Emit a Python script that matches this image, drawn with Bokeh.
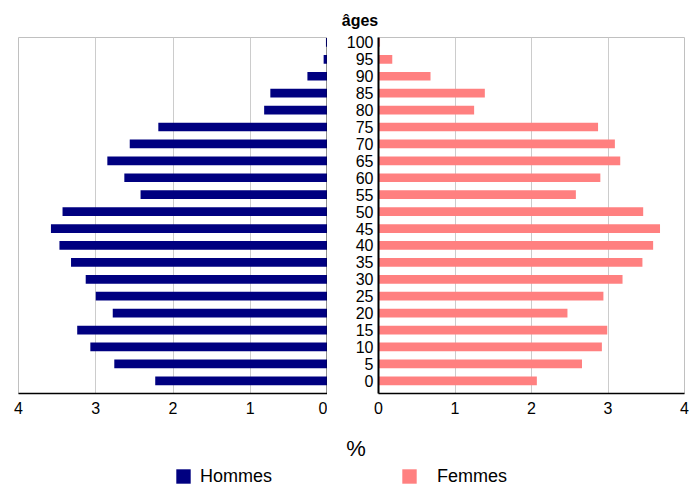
from bokeh.plotting import figure
from bokeh.layouts import row, column
from bokeh.models import Range1d, FixedTicker, Span, Label, Legend, LegendItem, ColumnDataSource
from bokeh.embed import file_html
from bokeh.resources import INLINE

ages = [0, 5, 10, 15, 20, 25, 30, 35, 40, 45, 50, 55, 60, 65, 70, 75, 80, 85, 90, 95, 100]
hommes = [2.23, 2.76, 3.07, 3.24, 2.78, 3.00, 3.13, 3.32, 3.47, 3.58, 3.43,
          2.42, 2.63, 2.85, 2.56, 2.19, 0.82, 0.74, 0.26, 0.05, 0.02]
femmes = [2.07, 2.66, 2.92, 2.99, 2.47, 2.94, 3.19, 3.45, 3.59, 3.68, 3.46,
          2.58, 2.90, 3.16, 3.09, 2.87, 1.25, 1.39, 0.68, 0.18, 0.02]
pct_ticks = [0, 1, 2, 3, 4]
series_names = ["Hommes", "Femmes"]
title_text = "âges"
unit_text = "%"

FONT = "Liberation Sans"
NAVY = "#000080"
PINK = "#ff8080"
GRID = "#cccccc"
OUTLINE = "#c0c0c0"

src = ColumnDataSource(dict(age=ages, h=hommes, f=femmes))
y_rng = Range1d(-3.76, 101.45)
TOP = 34
PH = 386  # height of the pyramid panels
BOT = 68


def style(p):
    p.xaxis.ticker = FixedTicker(ticks=pct_ticks)
    p.xaxis.major_tick_line_color = None
    p.xaxis.major_tick_out = 0
    p.xaxis.major_tick_in = 0
    p.xaxis.minor_tick_line_color = None
    p.xaxis.axis_line_color = "black"
    p.xaxis.axis_line_width = 1.5
    p.xaxis.major_label_text_font = FONT
    p.xaxis.major_label_text_font_size = "16px"
    p.xaxis.major_label_text_color = "black"
    p.xaxis.major_label_standoff = 8
    p.xgrid.ticker = FixedTicker(ticks=pct_ticks)
    p.xgrid.grid_line_color = GRID
    p.xgrid.grid_line_width = 1
    p.ygrid.grid_line_color = None
    p.outline_line_color = OUTLINE
    p.outline_line_width = 1
    p.background_fill_color = "white"
    p.border_fill_color = "white"


def strip(h):
    s = figure(width=692, height=h, x_range=Range1d(0, 692), y_range=Range1d(0, h),
               output_backend="svg", toolbar_location=None,
               x_axis_location=None, y_axis_location=None,
               min_border_left=0, min_border_right=0, min_border_top=0, min_border_bottom=0)
    s.outline_line_color = None
    s.xgrid.grid_line_color = None
    s.ygrid.grid_line_color = None
    return s


# Top strip with the title
top = strip(TOP)
top.add_layout(Label(x=359.5, y=TOP - 19.5, x_units="screen", y_units="screen", text=title_text,
                     text_font=FONT, text_font_size="16px", text_font_style="bold",
                     text_align="center", text_baseline="middle", text_color="black"))

# Left panel (Hommes)
pl = figure(width=327, height=PH, x_range=Range1d(4, 0), y_range=y_rng,
            output_backend="svg", toolbar_location=None, y_axis_location=None,
            min_border_left=18, min_border_right=0, min_border_top=3, min_border_bottom=27)
style(pl)
pl.hbar(y="age", left=0, right="h", height=2.58, source=src,
        fill_color=NAVY, line_color=None)
pl.add_layout(Span(location=0, dimension="height", line_color="black", line_width=1.5))

# Right panel (Femmes)
pr = figure(width=365, height=PH, x_range=Range1d(0, 4), y_range=y_rng,
            output_backend="svg", toolbar_location=None,
            min_border_left=51, min_border_right=8, min_border_top=3, min_border_bottom=27)
style(pr)
pr.yaxis.ticker = FixedTicker(ticks=ages)
pr.yaxis.major_tick_line_color = None
pr.yaxis.major_tick_out = 0
pr.yaxis.major_tick_in = 0
pr.yaxis.minor_tick_line_color = None
pr.yaxis.axis_line_color = "black"
pr.yaxis.axis_line_width = 2
pr.yaxis.major_label_text_font = FONT
pr.yaxis.major_label_text_font_size = "16px"
pr.yaxis.major_label_text_color = "black"
pr.yaxis.major_label_standoff = 5
pr.hbar(y="age", left=0, right="f", height=2.58, source=src,
        fill_color=PINK, line_color=None)

# Bottom strip with the unit label and legend (legend-only renderers are hidden)
bot = strip(BOT)
rh = bot.hbar(y="age", left=0, right="h", height=1, source=src,
              fill_color=NAVY, line_color=None, visible=False)
rf = bot.hbar(y="age", left=0, right="f", height=1, source=src,
              fill_color=PINK, line_color=None, visible=False)
bot.add_layout(Label(x=355.5, y=(420 + BOT) - 448.4, x_units="screen", y_units="screen",
                     text=unit_text, text_font=FONT, text_font_size="22px",
                     text_align="center", text_baseline="middle", text_color="black"))
for item_label, rend, x0, gap in ((series_names[0], rh, 174, 8), (series_names[1], rf, 400, 19)):
    lg = Legend(items=[LegendItem(label=item_label, renderers=[rend])],
                location=(x0, 0), glyph_width=18, glyph_height=18, label_height=24,
                label_standoff=gap, padding=0, margin=0, border_line_color=None,
                background_fill_alpha=0, label_text_font=FONT, label_text_font_size="18px",
                label_text_color="black")
    bot.add_layout(lg)

layout = column(top, row(pl, pr), bot)
open("out.html", "w").write(file_html(layout, INLINE))
